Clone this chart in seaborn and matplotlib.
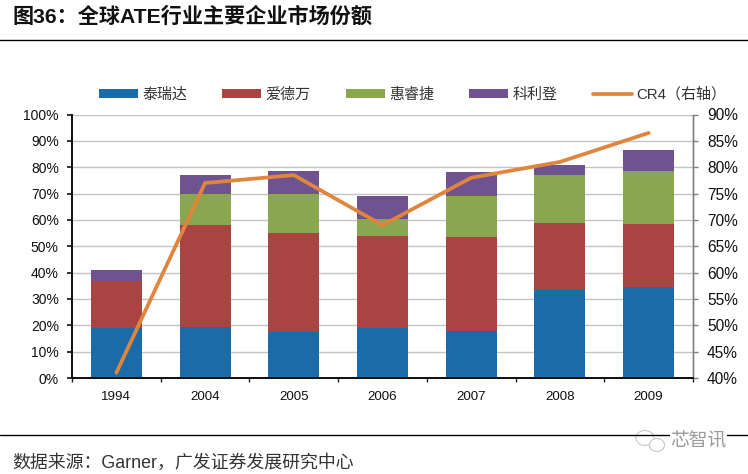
import numpy as np
import pandas as pd
import matplotlib
matplotlib.use("Agg")
import matplotlib.pyplot as plt
from matplotlib.patches import Ellipse
from matplotlib.ticker import PercentFormatter
import seaborn as sns

years = ["1994", "2004", "2005", "2006", "2007", "2008", "2009"]
teradyne = [19, 19.5, 17.5, 19, 18, 33.5, 34.5]
advantest = [18, 38.5, 37.5, 35, 35.5, 25.5, 24]
verigy = [0, 12, 15, 6.5, 15.5, 18, 20]
cohu = [4, 7, 8.5, 8.5, 9, 4, 8]
cr4 = [41, 77, 78.5, 69, 78, 81, 86.5]

names = ["泰瑞达", "爱德万", "惠睿捷", "科利登"]
colors = ["#1B6BA8", "#A84442", "#8AA64E", "#6E5390"]
line_color = "#E0853D"

sns.set_theme(style="white")
plt.rcParams["font.family"] = ["Liberation Sans", "Noto Sans CJK SC", "DejaVu Sans"]

W, H = 748, 474
fig = plt.figure(figsize=(W / 100, H / 100), dpi=100)
ax = fig.add_axes([72 / W, 1 - 378 / H, (693 - 72) / W, (378 - 114.5) / H])

df = pd.DataFrame({"year": years})
bottom = np.zeros(len(years))
for name, vals, col in zip(names, [teradyne, advantest, verigy, cohu], colors):
    df["v"] = vals
    sns.barplot(data=df, x="year", y="v", color=col, saturation=1, width=0.575,
                bottom=bottom, ax=ax, label=name, legend=False, linewidth=0)
    bottom = bottom + np.array(vals)

ax.set_xlim(-0.5, 6.5)
ax.set_ylim(0, 100)
ax.set_yticks(np.arange(0, 101, 10))
ax.yaxis.set_major_formatter(PercentFormatter(decimals=0))
ax.set_xlabel("")
ax.set_ylabel("")
ax.set_axisbelow(True)
ax.grid(axis="y", color="#C4C4C4", lw=1)
ax.grid(axis="x", visible=False)
ax.tick_params(axis="y", left=True, length=3.5, width=1.2, color="#111111", labelsize=10, pad=6, labelcolor="#111111")
ax.tick_params(axis="x", bottom=False, length=0, labelsize=9.6, pad=9.5, labelcolor="#111111")
for x in np.arange(-0.5, 6.6, 1):
    ax.plot([x, x], [0, -1.6], color="#222222", lw=1, clip_on=False, solid_capstyle="butt")

ax2 = ax.twinx()
sns.lineplot(x=np.arange(len(years)), y=cr4, color=line_color, lw=2.7, ax=ax2, label="CR4（右轴）",
             legend=False, errorbar=None, solid_capstyle="round")
ax2.set_ylim(40, 90)
ax2.set_yticks(np.arange(40, 91, 5))
ax2.yaxis.set_major_formatter(PercentFormatter(decimals=0))
ax2.tick_params(axis="y", right=True, length=3.6, width=1, color="#808080", labelsize=11.2, pad=6.5, labelcolor="#111111")
ax2.set_ylabel("")
ax2.grid(False)
for a in (ax, ax2):
    a.spines["top"].set_visible(False)
    a.spines["left"].set_color("#111111")
    a.spines["left"].set_linewidth(1.3)
    a.spines["bottom"].set_color("#111111")
    a.spines["bottom"].set_linewidth(1.3)
    a.spines["right"].set_color("#808080")
    a.spines["right"].set_linewidth(1)

h1, l1 = ax.get_legend_handles_labels()
h2, l2 = ax2.get_legend_handles_labels()
fig.legend(h1 + h2, l1 + l2, loc="center left", bbox_to_anchor=(99 / W, 1 - 94.5 / H), ncol=5, frameon=False,
           fontsize=10.8, handlelength=2.6, handleheight=0.6, columnspacing=2.35, handletextpad=0.28,
           borderpad=0, borderaxespad=0, labelcolor="#333333")

fig.add_artist(plt.Line2D([0, 1], [1 - 39.5 / H, 1 - 39.5 / H], color="black", lw=1))
fig.text(13 / W, 1 - 16 / H, "图36：全球ATE行业主要企业市场份额", fontsize=15.2, fontweight="bold",
         va="center", ha="left", color="#111111")
fig.add_artist(plt.Line2D([0, 1], [1 - 435 / H, 1 - 435 / H], color="black", lw=1))
fig.text(12 / W, 1 - 463 / H, "数据来源：Garner，广发证券发展研究中心", fontsize=12.9, va="center", ha="left", color="#333333")

# watermark
fig.text(698.5 / W, 1 - 442 / H, "芯智讯", fontsize=13.5, va="center", ha="center", color="#9A9A9A",
         bbox=dict(facecolor="white", edgecolor="none", pad=0.5))
fig.add_artist(Ellipse((645 / W, 1 - 438 / H), 18 / W, 15 / H, fill=True, facecolor="white", edgecolor="#C8C8C8", lw=0.8))
fig.add_artist(Ellipse((657 / W, 1 - 445 / H), 15 / W, 13 / H, fill=True, facecolor="white", edgecolor="#C8C8C8", lw=0.8))

fig.savefig("out.png", dpi=100)
